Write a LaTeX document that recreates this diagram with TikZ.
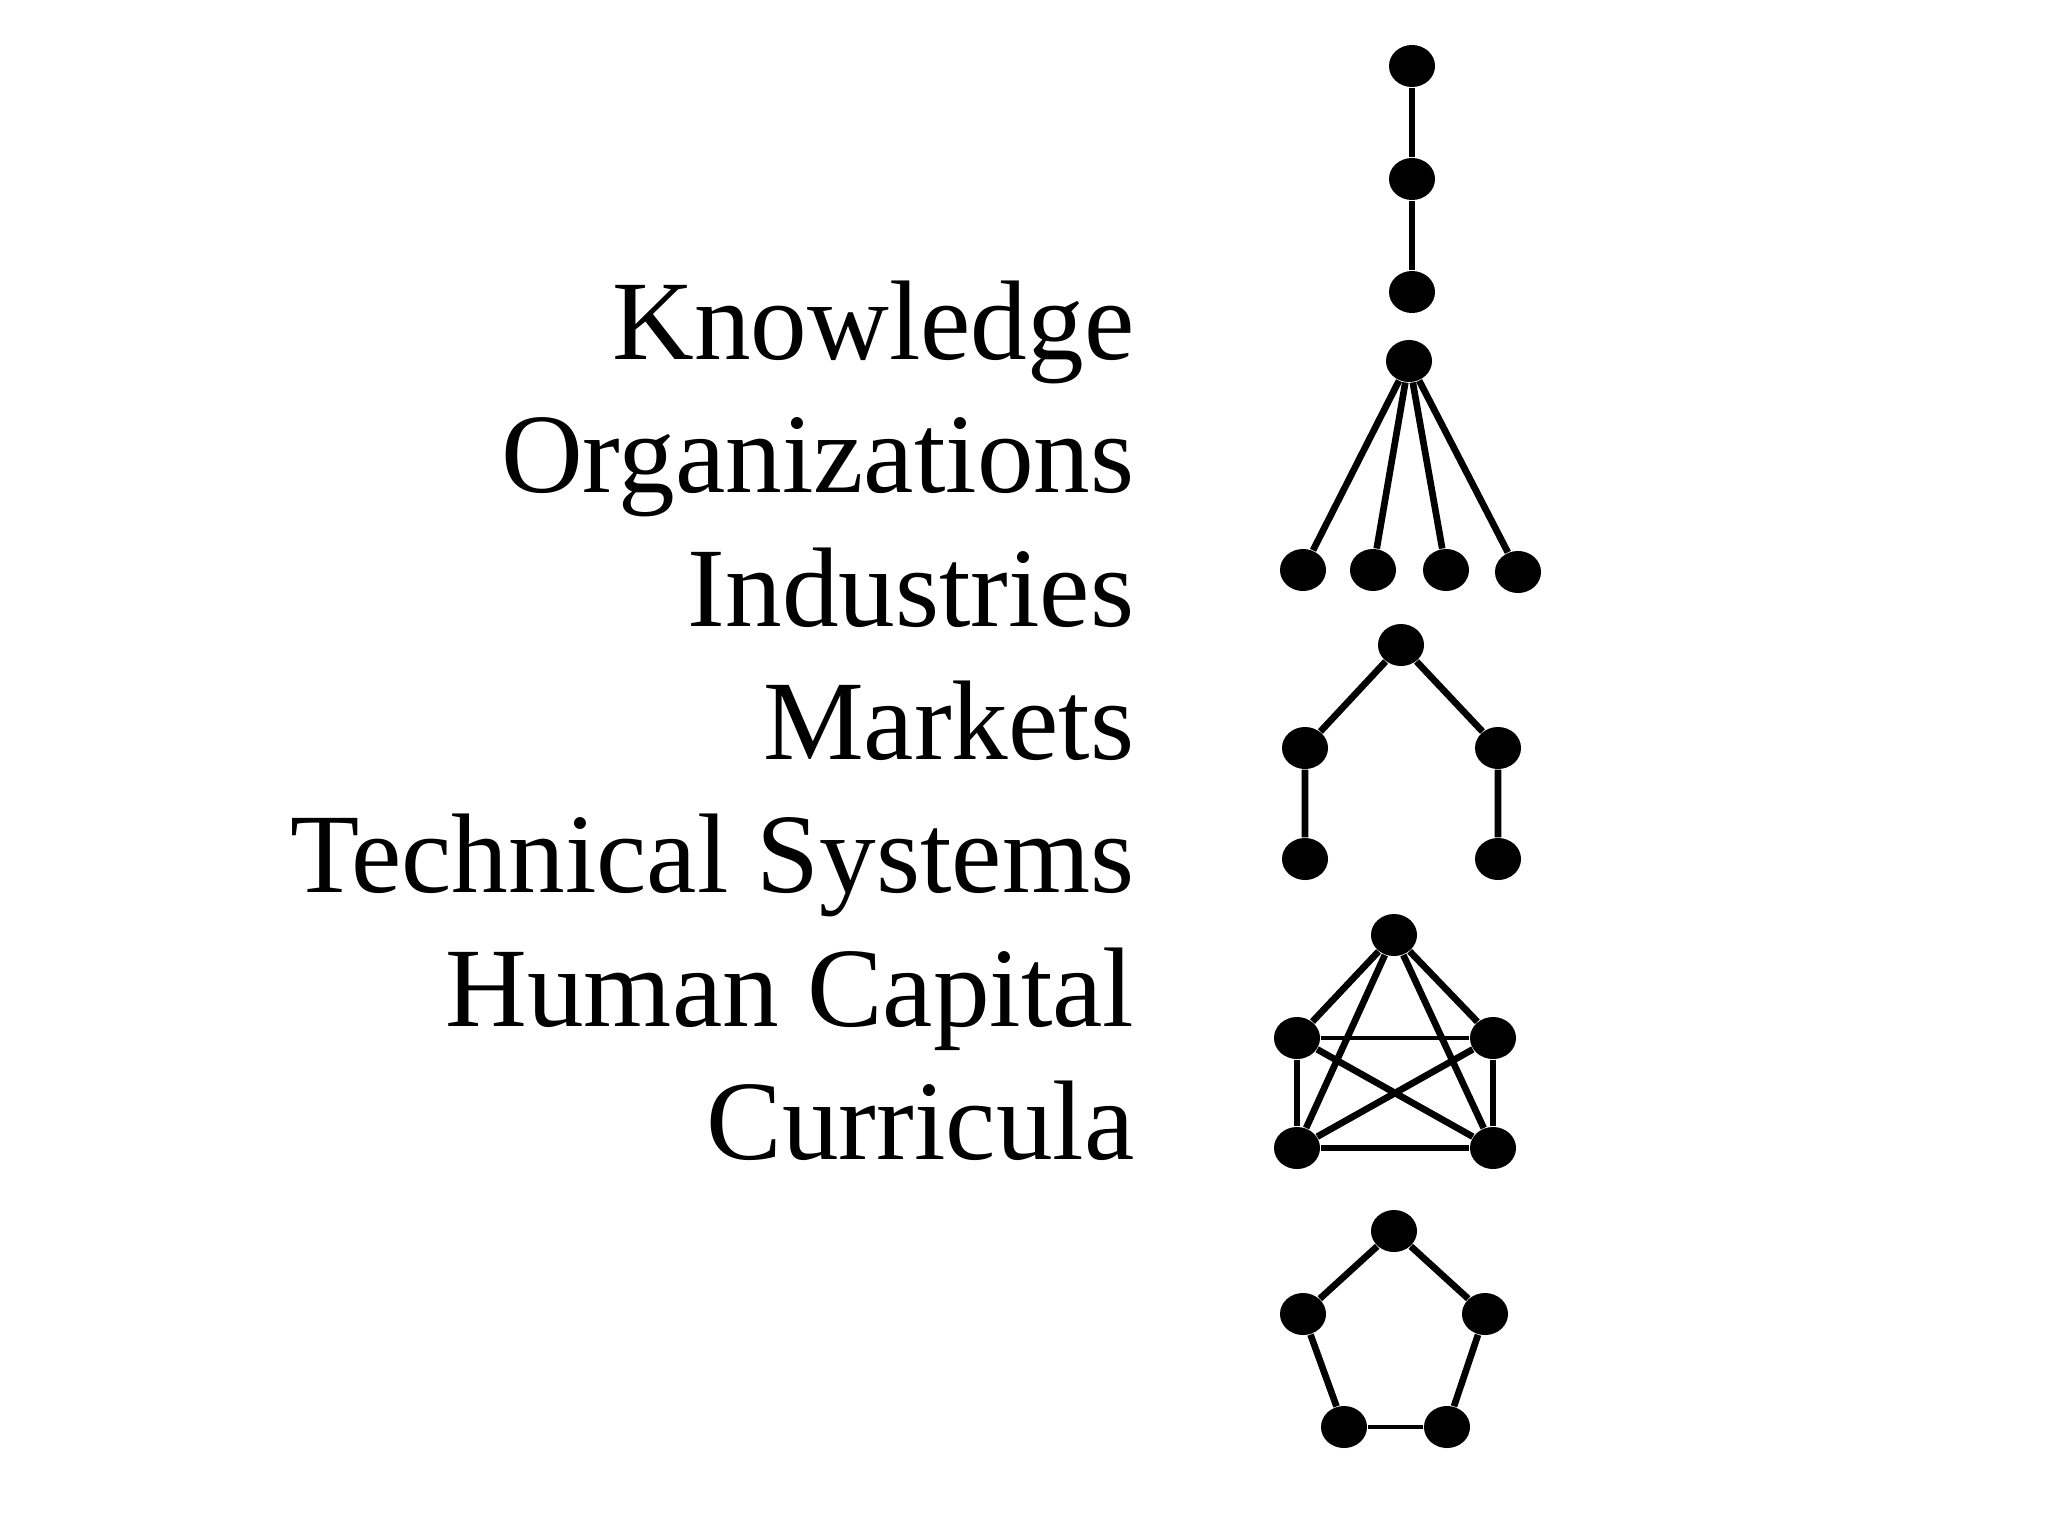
\documentclass[tikz,border=0pt]{standalone}
\usepackage{fontspec}
\setmainfont{Liberation Serif}
\usetikzlibrary{shapes.geometric}
\begin{document}
\begin{tikzpicture}[x=0.01cm,y=-0.01cm,
  dot/.style={ellipse,fill=black,inner sep=0pt,minimum width=0.46cm,minimum height=0.42cm},
  edge/.style={line width=1.9pt},
  thinedge/.style={line width=1.2pt},
  lbl/.style={anchor=base east,inner sep=0pt,font=\fontsize{32.2pt}{38pt}\selectfont}]
\useasboundingbox[fill=white] (0,0) rectangle (2048,1536);
% labels
\node[lbl] (t1) at (1135,359) {Knowledge};
\node[lbl] (t2) at (1135,492) {Organizations};
\node[lbl] (t3) at (1135,626) {Industries};
\node[lbl] (t4) at (1135,759) {Markets};
\node[lbl] (t5) at (1135,892) {Technical Systems};
\node[lbl] (t6) at (1135,1026) {Human Capital};
\node[lbl] (t7) at (1135,1159) {Curricula};
% chain
\node[dot] (c1) at (1412,66) {};
\node[dot] (c2) at (1412,179) {};
\node[dot] (c3) at (1412,292) {};
\draw[edge] (c1) -- (c2) -- (c3);
% star
\node[dot] (s0) at (1409,361) {};
\node[dot] (s1) at (1303,570) {};
\node[dot] (s2) at (1373,570) {};
\node[dot] (s3) at (1446,570) {};
\node[dot] (s4) at (1518,572) {};
\foreach \l in {s1,s2,s3,s4} \draw[edge] (s0) -- (\l);
% tree
\node[dot] (m1) at (1401,645) {};
\node[dot] (m2) at (1305,748) {};
\node[dot] (m3) at (1498,748) {};
\node[dot] (m4) at (1305,859) {};
\node[dot] (m5) at (1498,859) {};
\draw[edge] (m4) -- (m2) -- (m1) -- (m3) -- (m5);
% complete graph
\node[dot] (k1) at (1394,935) {};
\node[dot] (k2) at (1297,1038) {};
\node[dot] (k3) at (1493,1038) {};
\node[dot] (k4) at (1297,1148) {};
\node[dot] (k5) at (1493,1148) {};
\draw[edge] (k1) -- (k2);
\draw[edge] (k1) -- (k3);
\draw[edge] (k1) -- (k4);
\draw[edge] (k1) -- (k5);
\draw[thinedge] (k2) -- (k3);
\draw[edge] (k2) -- (k4);
\draw[edge] (k2) -- (k5);
\draw[edge] (k3) -- (k4);
\draw[edge] (k3) -- (k5);
\draw[edge] (k4) -- (k5);
% cycle
\node[dot] (p1) at (1394,1231) {};
\node[dot] (p2) at (1303,1314) {};
\node[dot] (p3) at (1485,1314) {};
\node[dot] (p4) at (1344,1427) {};
\node[dot] (p5) at (1447,1427) {};
\draw[edge] (p1) -- (p3) -- (p5);
\draw[thinedge] (p5) -- (p4);
\draw[edge] (p4) -- (p2) -- (p1);
\end{tikzpicture}
\end{document}
